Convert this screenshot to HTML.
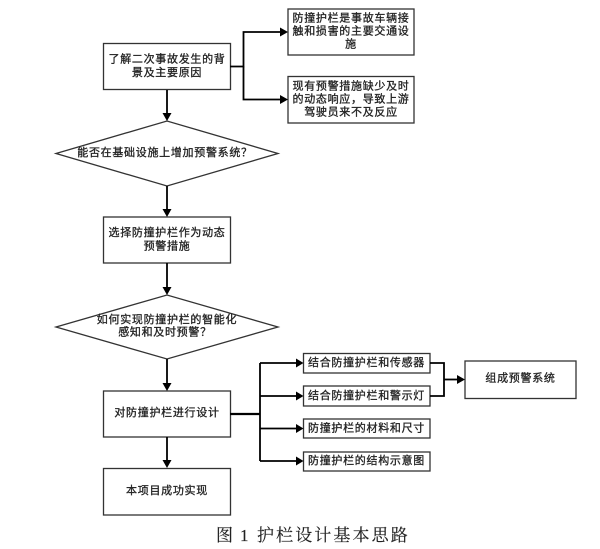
<!DOCTYPE html>
<html><head><meta charset="utf-8"><style>
html,body{margin:0;padding:0;background:#fff;width:600px;height:549px;overflow:hidden}
svg{display:block}
.d text{font-family:"Liberation Sans","Noto Sans CJK SC",sans-serif;font-size:11px;letter-spacing:.7px;fill:#222;stroke:#222;stroke-width:.3px;text-anchor:middle;dominant-baseline:central}
.s rect,.s polygon{fill:#fff;stroke:#333;stroke-width:1.3}
.l path{fill:none;stroke:#000;stroke-width:1.8}
.a polygon{fill:#000}
.c{font-family:"Liberation Serif","Noto Serif CJK SC",serif;font-size:17px;fill:#222;stroke:#222;stroke-width:.15px}
</style></head><body>
<svg width="600" height="549" viewBox="0 0 600 549" xmlns="http://www.w3.org/2000/svg">
<g style="filter:blur(.35px)">
<g class="s">
<rect x="103.500" y="43.500" width="127" height="46"/>
<rect x="288" y="9" width="126" height="46"/>
<rect x="288" y="76.500" width="126" height="46.500"/>
<polygon points="56,153.500 167,121 278,153.500 167,186"/>
<rect x="103.500" y="217" width="127" height="46"/>
<polygon points="56,327 167,295 278,327 167,359"/>
<rect x="103.500" y="391" width="127" height="46"/>
<rect x="103.500" y="468.500" width="127" height="46.500"/>
<rect x="303.500" y="353.500" width="126.500" height="19.500"/>
<rect x="303.500" y="386" width="126.500" height="20"/>
<rect x="303.500" y="419" width="126.500" height="19"/>
<rect x="303.500" y="452" width="126.500" height="19"/>
<rect x="465" y="361" width="111" height="37.500"/>
</g>
<g class="l">
<path d="M167 90V116"/><path d="M167 186V212"/><path d="M167 263V290"/><path d="M167 359V386"/><path d="M167 437V463"/>
<path d="M230 66.500H243.500V32H282"/><path d="M243.500 66.500V99.500H282"/>
<path d="M230 414H260" style="stroke-width:2.2"/>
<path d="M260 363V461"/>
<path d="M260 363H298"/><path d="M260 396H298"/><path d="M260 428.500H298"/><path d="M260 461H298"/>
<path d="M430 363H444V396H430"/><path d="M444 379.500H459"/>
</g>
<g class="a">
<polygon points="162.500,113 171.500,113 167,121"/>
<polygon points="162.500,209 171.500,209 167,217"/>
<polygon points="162.500,287 171.500,287 167,295"/>
<polygon points="162.500,383 171.500,383 167,391"/>
<polygon points="162.500,460 171.500,460 167,468"/>
<polygon points="280,27.500 288,32 280,36.500"/>
<polygon points="280,95 288,99.500 280,104"/>
<polygon points="296,358.500 303.500,363 296,367.500"/>
<polygon points="296,391.500 303.500,396 296,400.500"/>
<polygon points="296,424 303.500,428.500 296,433"/>
<polygon points="296,456.500 303.500,461 296,465.500"/>
<polygon points="457,375 465,379.500 457,384"/>
</g>
<g class="d">
<text x="167" y="59.500">了解二次事故发生的背</text>
<text x="167" y="73">景及主要原因</text>
<text x="351" y="18.500">防撞护栏是事故车辆接</text>
<text x="351" y="31.500">触和损害的主要交通设</text>
<text x="351" y="44.500">施</text>
<text x="351" y="86.500">现有预警措施缺少及时</text>
<text x="351" y="99.500">的动态响应，导致上游</text>
<text x="351" y="112.500">驾驶员来不及反应</text>
<text x="165" y="153">能否在基础设施上增加预警系统？</text>
<text x="167" y="233">选择防撞护栏作为动态</text>
<text x="167" y="246.500">预警措施</text>
<text x="167" y="320">如何实现防撞护栏的智能化</text>
<text x="165" y="332.500">感知和及时预警？</text>
<text x="167" y="413">对防撞护栏进行设计</text>
<text x="167" y="491">本项目成功实现</text>
<text x="366.500" y="363">结合防撞护栏和传感器</text>
<text x="366.500" y="396">结合防撞护栏和警示灯</text>
<text x="366.500" y="428.500">防撞护栏的材料和尺寸</text>
<text x="366.500" y="461">防撞护栏的结构示意图</text>
<text x="520.500" y="378.500">组成预警系统</text>
</g>
<text class="c" x="216" y="541">图</text>
<text class="c" x="240" y="541">1</text>
<text class="c" x="257" y="541" style="letter-spacing:2.1px">护栏设计基本思路</text>
</g>
</svg>
</body></html>
